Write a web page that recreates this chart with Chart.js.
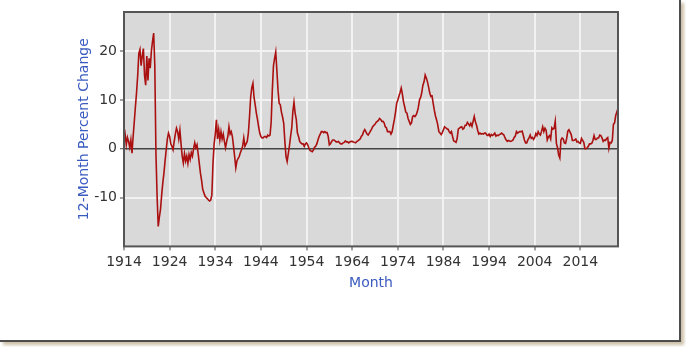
<!DOCTYPE html>
<html>
<head>
    <title>12-Month Percent Change</title>
    <script src="https://cdn.jsdelivr.net/npm/chart.js"></script>
    <style>
        body { margin: 0; background: #fff; }
        #frame {
            position: absolute; left: 0; top: 0; width: 679px; height: 340px;
            background: #fff;
            border-right: 2px solid #4d4d4d; border-bottom: 2px solid #4d4d4d;
            box-shadow: 3px 3px 3px rgba(170, 150, 110, 0.6);
        }
        #chartBox { position: absolute; left: 0; top: 0; }
    </style>
</head>
<body>

<div id="frame"></div>
<div id="chartBox"><canvas id="cpiChart" width="686" height="347"></canvas></div>

<script>
    // quarterly 12-month % change, each array starts at the year in its name
    const q1914 = [
        1.5, 2.9, 0.8, 2.3,   1.5, 0.3, 1.8, -0.9,   2.5, 5.5, 8.6, 11.5,   15.0, 19.5, 20.3, 17.0,
        19.0, 20.5, 15.0, 13.0,   19.0, 14.0, 18.5, 16.5,   20.0, 22.0, 23.7, 17.0,
        -1.0, -9.7, -15.9, -14.0,   -12.4, -9.5, -7.0, -5.0,   -2.5, -0.2, 2.0, 3.2
    ];
    const q1924 = [
        2.5, 1.0, 0.5, -0.2,   1.5, 3.0, 4.2, 3.5,   2.0, 3.8, 1.0, -1.5,   -2.9, -1.0, -2.5, -1.5,
        -3.0, -1.2, -2.2, -0.8,   -1.5, 0.0, 1.2, 0.2,   0.8, -1.0, -3.0, -5.0,
        -6.5, -8.3, -9.0, -9.7,   -10.0, -10.2, -10.5, -10.7,   -10.5, -9.5, -3.0, 1.0
    ];
    const q1934 = [
        3.0, 5.9, 2.0, 3.9,   1.8, 3.5, 2.0, 3.0,   1.5, 0.2, 1.5, 2.5,   4.5, 3.0, 3.5, 2.5,
        0.5, -1.6, -3.9, -2.5,   -2.0, -1.6, -0.8, -0.2,   0.5, 2.2, 0.5, 1.0,
        1.5, 3.2, 6.5, 10.5,   12.5, 13.4, 10.5, 9.0,   7.3, 6.0, 4.5, 3.2
    ];
    const q1944 = [
        2.5, 2.2, 2.2, 2.5,   2.5, 2.3, 2.8, 2.6,   2.8, 5.5, 12.0, 17.0,   18.5, 19.8, 16.0, 12.0,
        9.3, 9.0, 7.5, 6.5,   5.2, 1.5, -1.6, -2.6,   -1.0, 0.6, 2.5, 4.2,
        7.6, 9.5, 7.3, 6.0,   3.2, 2.5, 1.5, 1.2,   1.0, 1.0, 0.5, 1.0
    ];
    const q1954 = [
        1.2, 0.8, 0.2, -0.3,   -0.5, -0.6, -0.3, 0.3,   0.5, 1.0, 1.8, 2.5,   3.0, 3.5, 3.5, 3.3,
        3.5, 3.3, 3.3, 2.5,   0.8, 1.0, 1.5, 1.8,   1.8, 1.6, 1.4, 1.4,
        1.5, 1.2, 1.0, 1.0,   1.2, 1.3, 1.6, 1.4,   1.4, 1.2, 1.4, 1.5
    ];
    const q1964 = [
        1.5, 1.4, 1.3, 1.2,   1.5, 1.6, 1.8, 2.0,   2.5, 2.8, 3.5, 3.9,   3.5, 3.0, 2.8, 3.2,
        3.6, 4.0, 4.5, 4.8,   5.0, 5.4, 5.6, 5.8,   6.2, 6.0, 5.6, 5.6,
        5.3, 4.5, 4.3, 3.5,   3.5, 3.5, 3.0, 3.5,   4.8, 6.0, 7.5, 9.3
    ];
    const q1974 = [
        10.0, 10.8, 11.5, 12.4,   11.2, 9.6, 8.6, 7.5,   7.3, 6.2, 5.6, 5.0,   5.3, 6.6, 6.8, 6.6,
        6.9, 7.5, 8.5, 10.0,   10.5, 11.5, 13.0, 13.7,   15.1, 14.5, 13.7, 12.6,
        11.4, 10.7, 10.8, 9.3,   7.9, 6.7, 5.9, 4.9,   3.5, 3.2, 2.9, 3.3
    ];
    const q1984 = [
        3.9, 4.5, 4.3, 4.1,   4.0, 3.5, 3.2, 3.5,   2.5, 1.6, 1.5, 1.3,   2.1, 4.0, 4.2, 4.4,
        4.5, 4.0, 4.2, 4.8,   4.8, 5.4, 5.1, 4.7,   5.2, 4.6, 5.6, 6.6,
        5.5, 4.8, 3.8, 3.0,   3.2, 3.0, 3.1, 3.0,   3.2, 3.2, 2.8, 2.7
    ];
    const q1994 = [
        3.0, 2.5, 2.9, 2.7,   2.9, 3.2, 2.6, 2.8,   2.7, 2.9, 3.0, 3.2,   3.0, 2.8, 2.2, 1.8,
        1.5, 1.7, 1.6, 1.5,   1.6, 1.8, 2.3, 2.6,   3.5, 3.2, 3.4, 3.5,
        3.5, 3.6, 2.7, 1.8,   1.2, 1.2, 1.8, 2.2,   2.8, 2.1, 2.3, 1.9
    ];
    const q2004 = [
        2.3, 3.1, 2.7, 3.5,   3.0, 2.8, 3.6, 4.5,   3.5, 4.2, 3.8, 1.8,   2.4, 2.7, 2.0, 4.3,
        4.0, 4.2, 5.6, 1.1,   0.2, -1.3, -1.9, 1.8,   2.2, 2.0, 1.2, 1.1,
        2.1, 3.6, 3.9, 3.4,   2.9, 1.7, 1.7, 1.8,   2.0, 1.4, 1.5, 1.2
    ];
    const q2014 = [
        1.1, 2.1, 1.7, 1.3,   0.0, 0.0, 0.2, 0.5,   1.0, 1.0, 1.1, 1.7,   2.7, 1.9, 1.9, 2.2,
        2.2, 2.8, 2.7, 2.2,   1.5, 1.8, 1.7, 2.1,   2.3, 0.1, 1.3, 1.2,
        1.7, 5.0, 5.3, 6.8,   7.5, 8.3
    ];

    const decades = [
        [1914, q1914], [1924, q1924], [1934, q1934], [1944, q1944], [1954, q1954], [1964, q1964],
        [1974, q1974], [1984, q1984], [1994, q1994], [2004, q2004], [2014, q2014]
    ];
    const yearTicks = [1914, 1924, 1934, 1944, 1954, 1964, 1974, 1984, 1994, 2004, 2014];
    const pctTicks = [-10, 0, 10, 20];

    // one point per quarter
    const points = [];
    decades.forEach(([start, vals]) => {
        vals.forEach((v, i) => points.push({ x: start + i / 4, y: v }));
    });

    // grey plot background and dark frame round it
    const plotFrame = {
        id: 'plotFrame',
        beforeDraw(chart) {
            const { ctx, chartArea: a } = chart;
            ctx.save();
            ctx.fillStyle = '#d9d9d9';
            ctx.fillRect(a.left, a.top, a.right - a.left, a.bottom - a.top);
            ctx.restore();
        },
        afterDatasetsDraw(chart) {
            const { ctx, chartArea: a } = chart;
            ctx.save();
            ctx.strokeStyle = '#555';
            ctx.lineWidth = 2;
            ctx.strokeRect(a.left, a.top, a.right - a.left, a.bottom - a.top);
            ctx.restore();
        }
    };

    const font = { family: 'DejaVu Sans', size: 14 };

    new Chart(document.getElementById('cpiChart'), {
        type: 'line',
        data: {
            datasets: [{
                label: '12-Month Percent Change',
                data: points,
                borderColor: '#aa1010',
                borderWidth: 1.6,
                pointRadius: 0,
                tension: 0
            }]
        },
        options: {
            responsive: false,
            animation: false,
            layout: { padding: { left: 72, top: 12, right: 68, bottom: 51 } },
            plugins: { legend: { display: false }, tooltip: { enabled: false } },
            scales: {
                x: {
                    type: 'linear',
                    min: 1914,
                    max: 2022.25,
                    afterBuildTicks: s => { s.ticks = yearTicks.map(v => ({ value: v })); },
                    ticks: {
                        callback: v => String(v),
                        font: font,
                        color: '#333',
                        padding: 4,
                        maxRotation: 0,
                        autoSkip: false
                    },
                    grid: { color: '#f2f2f2', lineWidth: 2, tickLength: 4, tickColor: '#444', tickWidth: 1 },
                    border: { display: false },
                    title: {
                        display: true, text: 'Month', color: '#3a5bbf', font: font,
                        padding: { top: 0, bottom: 4 }
                    }
                },
                y: {
                    min: -20,
                    max: 28,
                    afterBuildTicks: s => { s.ticks = pctTicks.map(v => ({ value: v })); },
                    afterFit: s => { s.width = 52; },
                    ticks: { font: font, color: '#333', padding: 3 },
                    grid: {
                        color: c => c.tick && c.tick.value === 0 ? '#444' : '#f2f2f2',
                        lineWidth: c => c.tick && c.tick.value === 0 ? 1.5 : 2,
                        tickLength: 4,
                        tickColor: '#444',
                        tickWidth: 1
                    },
                    border: { display: false },
                    title: { display: true, text: '12-Month Percent Change', color: '#3a5bbf', font: font }
                }
            }
        },
        plugins: [plotFrame]
    });
</script>
</body>
</html>
